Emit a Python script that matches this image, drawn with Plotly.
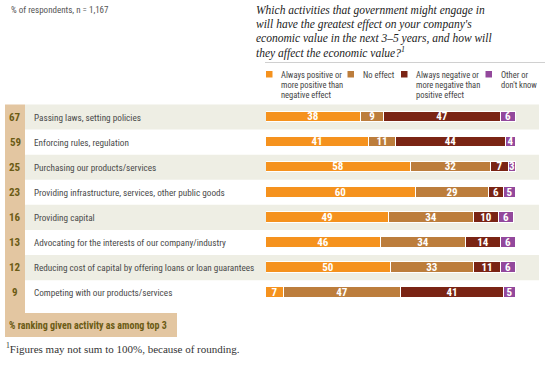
import plotly.graph_objects as go

W, H = 545, 366

categories = [
    "Passing laws, setting policies",
    "Enforcing rules, regulation",
    "Purchasing our products/services",
    "Providing infrastructure, services, other public goods",
    "Providing capital",
    "Advocating for the interests of our company/industry",
    "Reducing cost of capital by offering loans or loan guarantees",
    "Competing with our products/services",
]
rank_top3 = [67, 59, 25, 23, 16, 13, 12, 9]
positive = [38, 41, 58, 60, 49, 46, 50, 7]
no_effect = [9, 11, 32, 29, 34, 34, 33, 47]
negative = [47, 44, 7, 6, 10, 14, 11, 41]
other = [6, 4, 3, 5, 6, 6, 6, 5]

series_names = [
    ["Always positive or", "more positive than", "negative effect"],
    ["No effect"],
    ["Always negative or", "more negative than", "positive effect"],
    ["Other or", "don't know"],
]
series_values = [positive, no_effect, negative, other]
colors = ["#F5921E", "#BC7D3C", "#7A2414", "#93489C"]

title_lines = [
    "Which activities that government might engage in",
    "will have the greatest effect on your company's",
    "economic value in the next 3–5 years, and how will",
    "they affect the economic value?<sup>1</sup>",
]

NARROW = "Roboto Condensed, DejaVu Sans Condensed, sans-serif"
SERIF = "Liberation Serif, serif"

def px(x):
    return x / W

def py(y):
    return 1 - y / H

ROW0, STEP = 117.0, 25.1
def ydata(p):
    return (p - ROW0) / STEP

rows = list(range(len(categories)))

fig = go.Figure()
for vals, col in zip(series_values, colors):
    fig.add_trace(go.Bar(
        y=rows, x=vals, orientation="h", width=0.42,
        marker=dict(color=col, line=dict(color="white", width=1)),
        text=[str(v) for v in vals], textposition="inside", textangle=0,
        insidetextanchor="middle", constraintext="none",
        textfont=dict(color="white", size=11, family=NARROW, weight="bold"),
        showlegend=False, hoverinfo="skip",
    ))

shapes = []
for i in rows:
    if i % 2 == 0:
        shapes.append(dict(type="rect", xref="paper", yref="y", layer="below",
                           x0=px(25), x1=px(539), y0=i - 0.5, y1=i + 0.5,
                           fillcolor="#EEEEE4", line=dict(width=0)))
shapes.append(dict(type="rect", xref="paper", yref="y", layer="below",
                   x0=px(5), x1=px(25), y0=-0.5, y1=ydata(337),
                   fillcolor="#E3C6A1", line=dict(width=0)))
shapes.append(dict(type="rect", xref="paper", yref="y", layer="below",
                   x0=px(5), x1=px(177), y0=ydata(313), y1=ydata(337),
                   fillcolor="#E3C6A1", line=dict(width=0)))
shapes.append(dict(type="line", xref="paper", yref="paper",
                   x0=px(265), x1=px(545), y0=py(62.5), y1=py(62.5),
                   line=dict(color="#D0D0D0", width=1)))
leg_sq_x = [266, 347.5, 401, 485.5]
leg_tx_x = [278.5, 361, 414, 498.5]
for x0, col in zip(leg_sq_x, colors):
    shapes.append(dict(type="rect", xref="paper", yref="paper",
                       x0=px(x0), x1=px(x0 + 6.5), y0=py(71), y1=py(77.5),
                       fillcolor=col, line=dict(width=0)))

ann = []
for k, line in enumerate(title_lines):
    ann.append(dict(xref="paper", yref="paper", x=px(254), y=py(10.5 + 14 * k),
                    xanchor="left", yanchor="middle", showarrow=False,
                    text="<i>" + line + "</i>",
                    font=dict(family=SERIF, size=11.5, color="#222222")))
ann.append(dict(xref="paper", yref="paper", x=px(9), y=py(10),
                xanchor="left", yanchor="middle", showarrow=False,
                text="% of respondents, n = 1,167",
                font=dict(family=NARROW, size=9, color="#555555")))
for tx, lines in zip(leg_tx_x, series_names):
    for k, line in enumerate(lines):
        ann.append(dict(xref="paper", yref="paper", x=px(tx), y=py(75 + 10 * k),
                        xanchor="left", yanchor="middle", showarrow=False,
                        text=line, font=dict(family=NARROW, size=8.5, color="#444444")))
for i, (c, r) in enumerate(zip(categories, rank_top3)):
    ann.append(dict(xref="paper", yref="y", x=px(15), y=i,
                    xanchor="center", yanchor="middle", showarrow=False,
                    text="<b>%d</b>" % r,
                    font=dict(family=NARROW, size=11, color="#6B5B14")))
    ann.append(dict(xref="paper", yref="y", x=px(31.5), y=i,
                    xanchor="left", yanchor="middle", showarrow=False,
                    text=c, font=dict(family=NARROW, size=9.2, color="#4A4A4A")))
ann.append(dict(xref="paper", yref="paper", x=px(7), y=py(325.5),
                xanchor="left", yanchor="middle", showarrow=False,
                text="<b>% ranking given activity as among top 3</b>",
                font=dict(family=NARROW, size=10, color="#6B5B14")))
ann.append(dict(xref="paper", yref="paper", x=px(4), y=py(348),
                xanchor="left", yanchor="middle", showarrow=False,
                text="<sup>1</sup>Figures may not sum to 100%, because of rounding.",
                font=dict(family=SERIF, size=11, color="#333333")))

fig.update_layout(
    width=W, height=H, margin=dict(l=0, r=0, t=0, b=0),
    barmode="stack", bargap=0,
    paper_bgcolor="white", plot_bgcolor="rgba(0,0,0,0)",
    xaxis=dict(domain=[px(266), px(516)], range=[0, 100], visible=False, fixedrange=True),
    yaxis=dict(domain=[0, 1], range=[ydata(H), ydata(0)], visible=False, fixedrange=True),
    shapes=shapes, annotations=ann, showlegend=False,
)

fig.write_html("out.html", config={"displayModeBar": False},
               post_script="document.body.style.margin='0';")
